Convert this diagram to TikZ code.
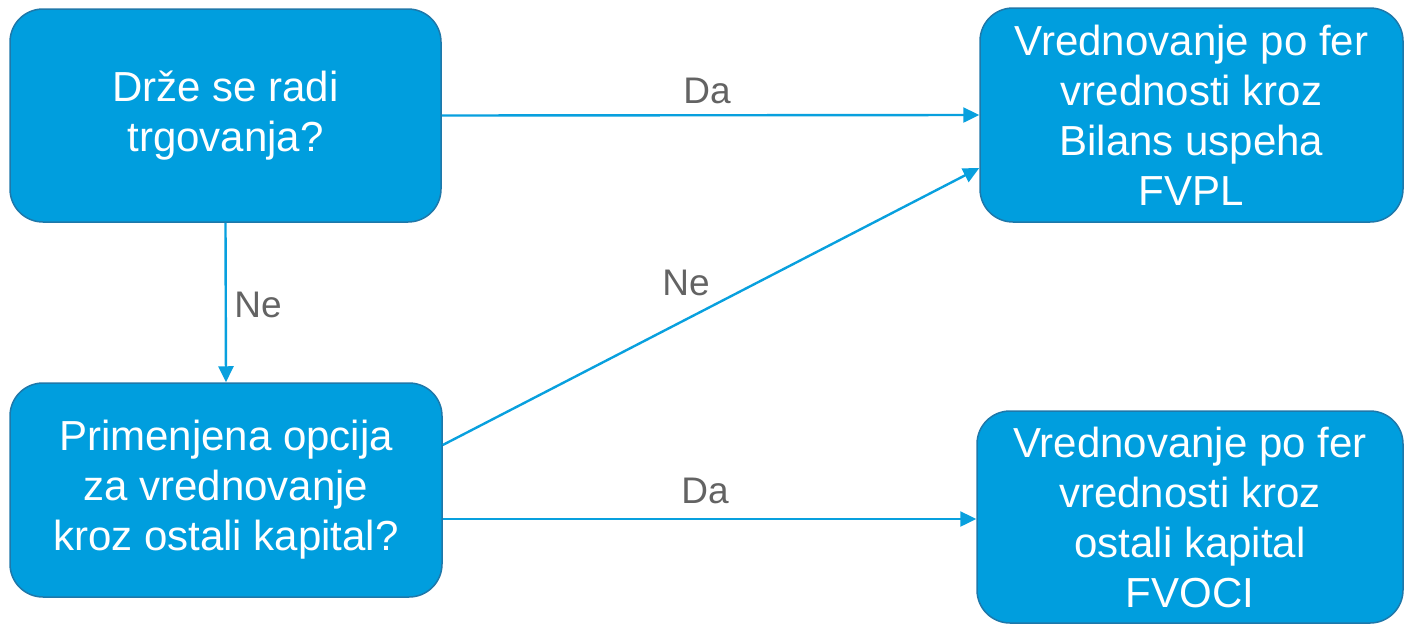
\documentclass[tikz,border=0pt]{standalone}
\usepackage{fontspec}
\setmainfont{Liberation Sans}
\usetikzlibrary{arrows.meta}
\definecolor{boxfill}{RGB}{0,158,222}
\definecolor{boxline}{RGB}{30,120,170}
\definecolor{linkblue}{RGB}{8,160,222}
\definecolor{labelgray}{RGB}{99,99,99}
\begin{document}
\begin{tikzpicture}[x=1pt,y=-1pt,
  decision/.style={draw=boxline, line width=1.5pt, fill=boxfill, rounded corners=33pt,
    text=white, align=center, inner sep=0pt,
    font=\fontsize{42}{50}\selectfont},
  link/.style={draw=linkblue, line width=2.4pt,
    -{Triangle[length=16pt,width=15pt]}},
  answer/.style={text=labelgray, anchor=base, inner sep=0pt,
    font=\fontsize{37}{44}\selectfont}]
\useasboundingbox (0,0) rectangle (1404,624);

% question boxes
\node[decision, minimum width=431pt, minimum height=213pt] (trade) at (225.5,115.5)
  {Drže se radi\\trgovanja?};
\node[decision, minimum width=432pt, minimum height=214pt] (option) at (226,490)
  {Primenjena opcija\\za vrednovanje\\kroz ostali kapital?};

% outcome boxes
\node[decision, minimum width=423pt, minimum height=214pt] (fvpl) at (1191.5,115)
  {Vrednovanje po fer\\vrednosti kroz\\Bilans uspeha\\FVPL};
\node[decision, minimum width=426pt, minimum height=212pt] (fvoci) at (1190,517)
  {Vrednovanje po fer\\vrednosti kroz\\ostali kapital\\FVOCI};

% connectors
\draw[link] (trade.east) -- (fvpl.west);
\draw[link] (trade.south) -- (option.north);
\draw[link] ([yshift=45pt]option.east) -- ([yshift=-53pt]fvpl.west);
\draw[link] ([yshift=-29pt]option.east) -- ([yshift=-2pt]fvoci.west);

% answer labels
\node[answer] (yes1) at (707,103) {Da};
\node[answer] (no1) at (258,317) {Ne};
\node[answer] (no2) at (686,295) {Ne};
\node[answer] (yes2) at (705,503) {Da};
\end{tikzpicture}
\end{document}
